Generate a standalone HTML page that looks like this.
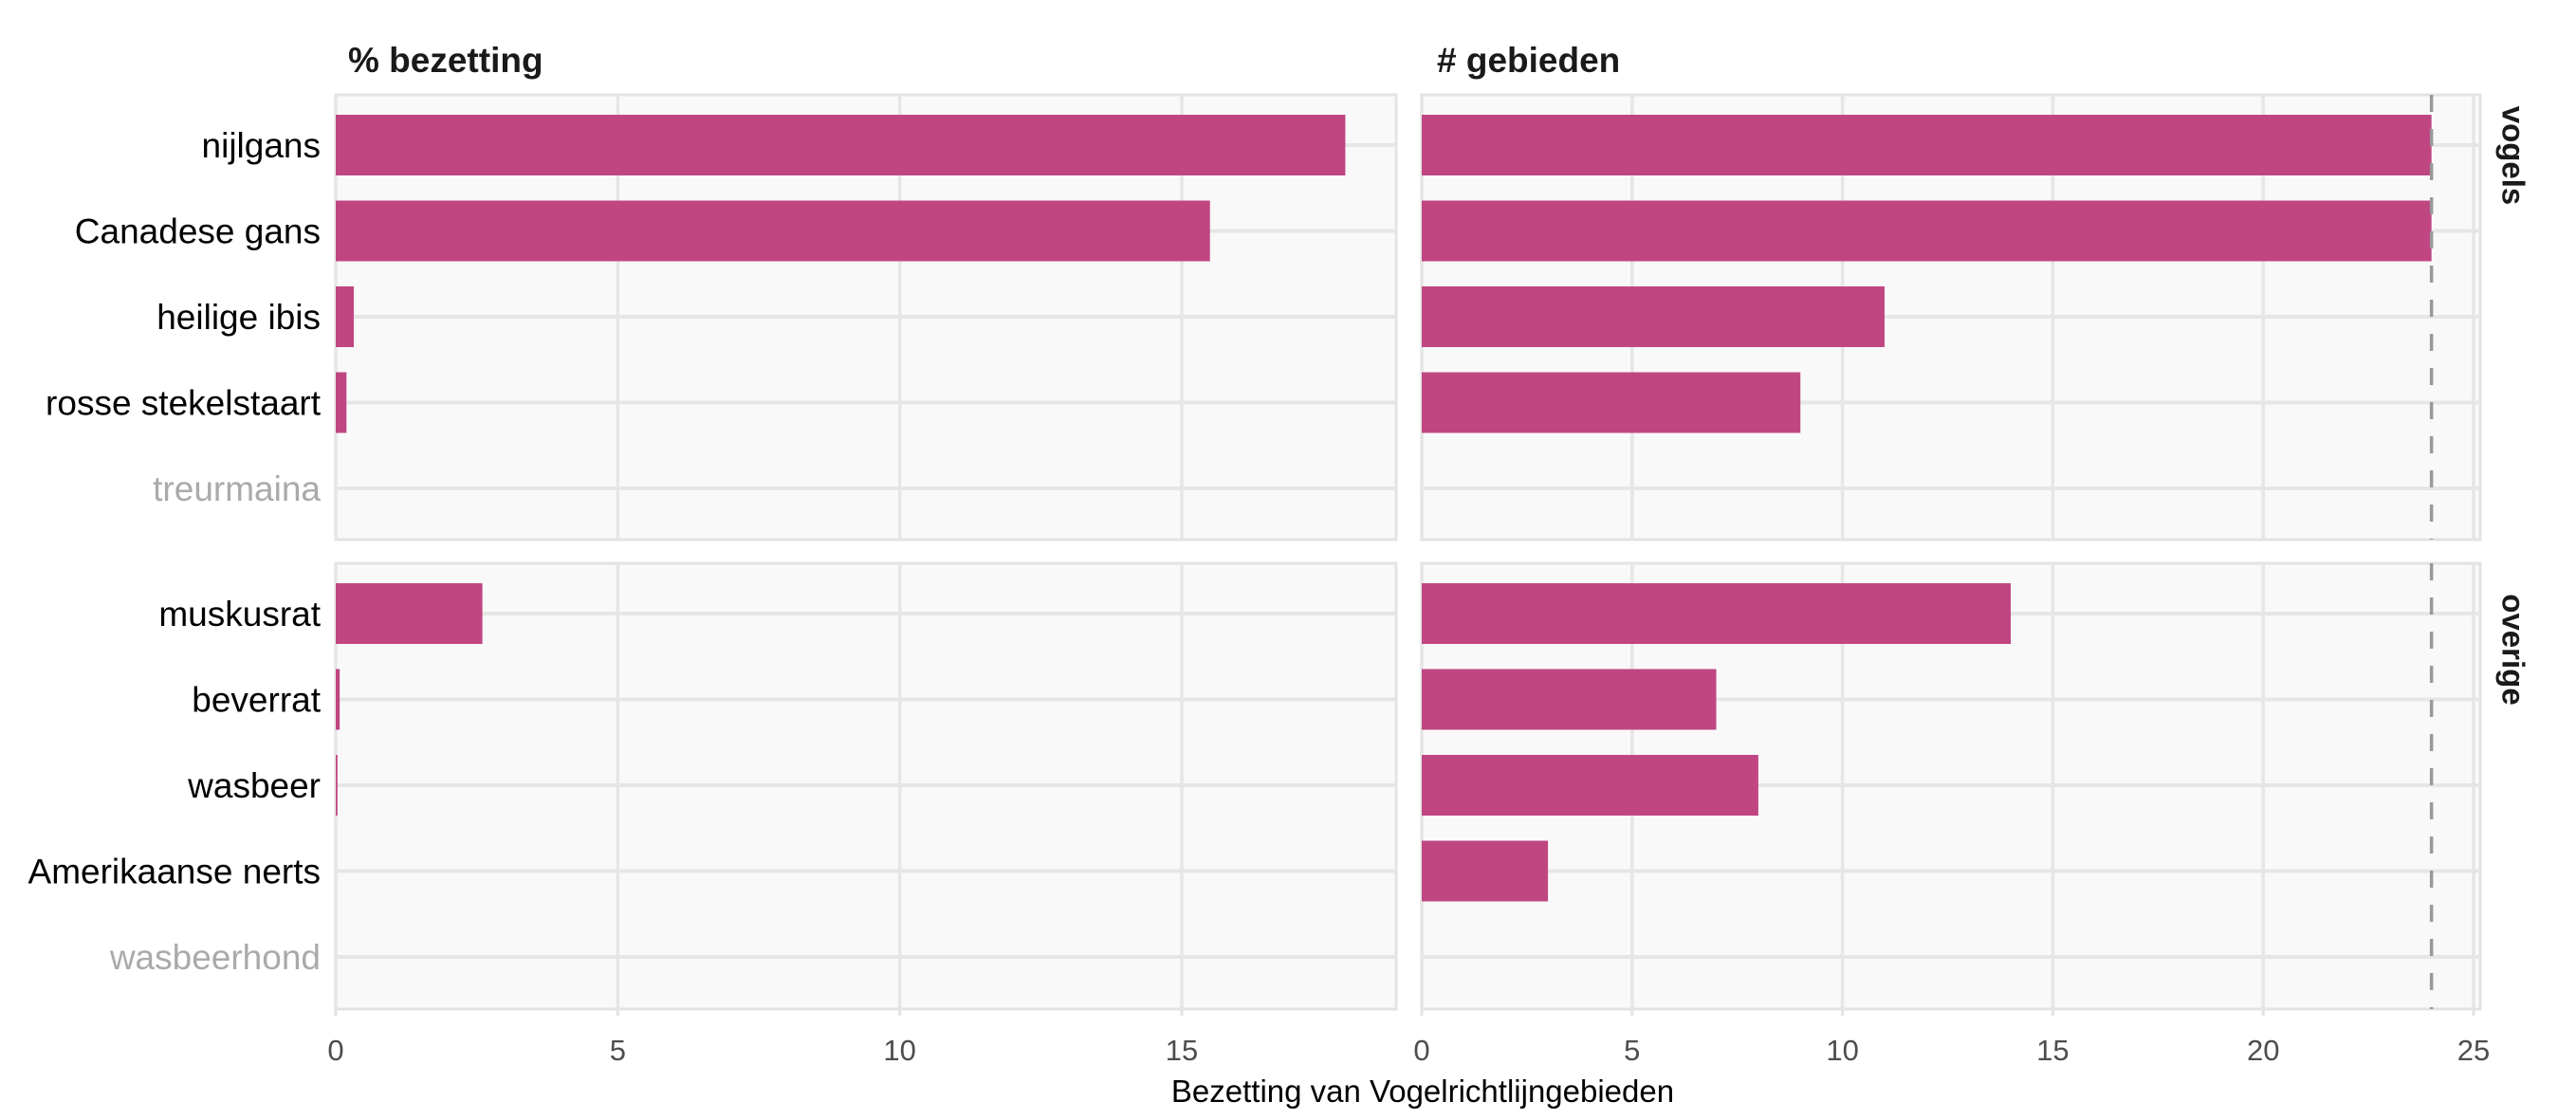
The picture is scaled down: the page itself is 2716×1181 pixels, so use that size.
<!DOCTYPE html>
<html><head><meta charset="utf-8"><style>
html,body{margin:0;padding:0;background:#fff;}
svg{display:block;font-family:"Liberation Sans",sans-serif;}
</style></head><body>
<svg id="chart" width="2716" height="1181" viewBox="0 0 2716 1181" xmlns="http://www.w3.org/2000/svg"></svg>
<script>
const groups = ["vogels","overige"];
const speciesVogels = ["nijlgans","Canadese gans","heilige ibis","rosse stekelstaart","treurmaina"];
const speciesOverige = ["muskusrat","beverrat","wasbeer","Amerikaanse nerts","wasbeerhond"];
const pctVogels = [17.9, 15.5, 0.32, 0.19, 0];
const pctOverige = [2.6, 0.07, 0.03, 0, 0];
const cntVogels = [24, 24, 11, 9, 0];
const cntOverige = [14, 7, 8, 3, 0];
const pctTicks = [0,5,10,15];
const cntTicks = [0,5,10,15,20,25];
const refLine = 24;

const NS="http://www.w3.org/2000/svg";
const svg=document.getElementById('chart');
function mk(tag,attrs,parent){const e=document.createElementNS(NS,tag);for(const k in attrs)e.setAttribute(k,attrs[k]);(parent||svg).appendChild(e);return e;}

const xPct=v=>354+v*(1246-354)/15;
const xCnt=v=>1499+v*(2608-1499)/25;
const panelsY=[{top:100,bot:569},{top:594,bot:1064}];
const rowY=(p,i)=>panelsY[p].top+53+i*90.5;
const cols=[{x0:354,x1:1472,xf:xPct,ticks:pctTicks,title:"% bezetting",tx:367},{x0:1499,x1:2615,xf:xCnt,ticks:cntTicks,title:"# gebieden",tx:1515}];
const species=[speciesVogels,speciesOverige];
const vals=[[pctVogels,pctOverige],[cntVogels,cntOverige]];

cols.forEach((c,ci)=>{
  const t=mk('text',{x:c.tx,y:76,'font-size':37,'font-weight':'bold',fill:'#1a1a1a'});
  t.textContent=c.title;
  
  
  panelsY.forEach((p,pi)=>{
    const bg=mk('rect',{x:c.x0,y:p.top,width:c.x1-c.x0,height:p.bot-p.top,fill:'#f9f9f9',stroke:'#e3e3e3','stroke-width':3});
    
    
    c.ticks.forEach(tv=>{
      const gl=mk('line',{x1:c.xf(tv),x2:c.xf(tv),y1:p.top,y2:p.bot,stroke:'#e6e6e6','stroke-width':3.5});
      
      
    });
    species[pi].forEach((s,i)=>{
      const y=rowY(pi,i);
      const hl=mk('line',{x1:c.x0,x2:c.x1,y1:y,y2:y,stroke:'#e6e6e6','stroke-width':4});
      
      
    });
    species[pi].forEach((s,i)=>{
      const v=vals[ci][pi][i];
      if(v>0){
        const b=mk('rect',{x:c.xf(0),y:rowY(pi,i)-32,width:c.xf(v)-c.xf(0),height:64,fill:'#c04682'});
        
        
      }
    });
    if(ci===1){
      const dl=mk('line',{x1:xCnt(refLine),x2:xCnt(refLine),y1:p.top,y2:p.bot,stroke:'#999','stroke-width':3.5,'stroke-dasharray':'18,18'});
      
      
    }
  });
  c.ticks.forEach(tv=>{
    const tk=mk('line',{x1:c.xf(tv),x2:c.xf(tv),y1:1064,y2:1071,stroke:'#e3e3e3','stroke-width':3});
    
    
    const tl=mk('text',{x:c.xf(tv),y:1118,'font-size':31,fill:'#4d4d4d','text-anchor':'middle'});
    tl.textContent=tv;
    
    
  });
});

species.forEach((arr,pi)=>{
  arr.forEach((s,i)=>{
    const empty = vals[0][pi][i]===0 && vals[1][pi][i]===0;
    const t=mk('text',{x:338,y:rowY(pi,i)+13,'font-size':37,'text-anchor':'end',fill:empty?'#aaaaaa':'#000'});
    t.textContent=s;
    
    
  });
});

groups.forEach((g,pi)=>{
  const yc = pi===0 ? 164 : 685;
  const t=mk('text',{x:2650,y:yc,'font-size':33,'font-weight':'bold',fill:'#1a1a1a','text-anchor':'middle',transform:`rotate(90 2650 ${yc})`,'dominant-baseline':'central'});
  t.textContent=g;
  
  
});

const xt=mk('text',{x:1500,y:1162,'font-size':33,fill:'#000','text-anchor':'middle'});
xt.textContent="Bezetting van Vogelrichtlijngebieden";


</script>
</body></html>
